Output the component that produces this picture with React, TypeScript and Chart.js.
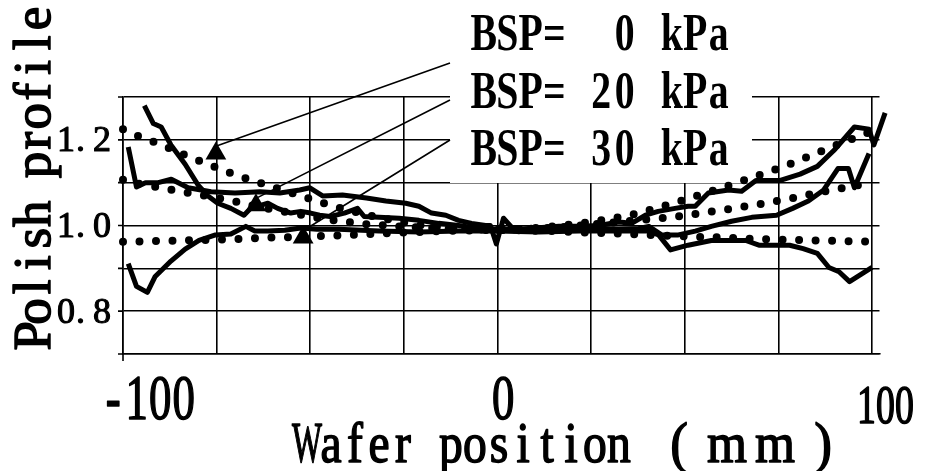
import { useEffect, useRef } from "react";
import { Chart, registerables } from "chart.js";

Chart.register(...registerables);

// Back-side pressure of each condition, kPa
const pressures = [0, 20, 30];

// Model curves (dotted), sampled along the wafer diameter, mm
const modelX = [
  -100, -95, -90, -85, -80, -75, -70, -65, -60, -55, -50, -45, -40, -35, -30, -25, -20, -15, -10, -5, 0,
  5, 10, 15, 20, 25, 30, 35, 40, 45, 50, 55, 60, 65, 70, 75, 80, 85, 90, 95, 100,
];
const model0 = [
  1.225, 1.205, 1.19, 1.17, 1.152, 1.135, 1.118, 1.104, 1.09, 1.076, 1.062, 1.048, 1.036, 1.025, 1.016, 1.007,
  1.0, 0.996, 0.993, 0.991, 0.99, 0.991, 0.994, 0.998, 1.003, 1.008, 1.016, 1.023, 1.035, 1.047, 1.06, 1.074,
  1.088, 1.103, 1.118, 1.133, 1.15, 1.168, 1.186, 1.203, 1.22,
];
const model20 = [
  1.107, 1.096, 1.088, 1.08, 1.072, 1.065, 1.056, 1.046, 1.037, 1.029, 1.021, 1.014, 1.008, 1.003, 1.0, 0.997,
  0.995, 0.993, 0.992, 0.991, 0.99, 0.991, 0.993, 0.995, 0.998, 1.002, 1.006, 1.01, 1.014, 1.018, 1.023, 1.03,
  1.036, 1.043, 1.05, 1.058, 1.066, 1.076, 1.084, 1.092, 1.1,
];
const model30 = [
  0.962, 0.963, 0.964, 0.965, 0.966, 0.967, 0.968, 0.97, 0.972, 0.973, 0.975, 0.976, 0.978, 0.98, 0.982, 0.984,
  0.985, 0.987, 0.988, 0.989, 0.99, 0.989, 0.988, 0.987, 0.985, 0.983, 0.982, 0.98, 0.978, 0.976, 0.975, 0.973,
  0.972, 0.97, 0.968, 0.967, 0.966, 0.965, 0.964, 0.963, 0.962,
];

// Measured profiles (solid): [position mm, normalised removal]
const measured0: [number, number][] = [
  [-94.3, 1.28], [-91.9, 1.238], [-89.8, 1.23], [-87.2, 1.188], [-83.4, 1.143], [-80.0, 1.095], [-77.3, 1.069],
  [-74.7, 1.052], [-71.2, 1.04], [-67.7, 1.024], [-65.9, 1.04], [-61.3, 1.052], [-58.7, 1.04], [-55.2, 1.029],
  [-52.5, 1.033], [-49.9, 1.029], [-47.5, 1.024], [-44.7, 1.021], [-40.9, 1.029], [-37.4, 1.04], [-35.6, 1.021],
  [-31.6, 1.019], [-26.3, 1.017], [-21, 1.012], [-15.7, 1.005], [-10.4, 1.0], [-5, 0.993], [0, 0.991],
  [5.6, 0.991], [11, 0.995], [16.4, 0.998], [21.8, 0.998], [27.1, 1.0], [32.4, 1.008], [35.8, 1.005],
  [39.5, 1.024], [42.9, 1.033], [47.4, 1.04], [50.9, 1.045], [52.8, 1.045], [56.3, 1.076], [61.7, 1.083],
  [65.2, 1.08], [69, 1.105], [75.3, 1.105], [80.8, 1.12], [85.4, 1.138], [89.8, 1.175], [95.3, 1.23],
  [99.2, 1.225], [100.5, 1.188], [103.5, 1.263],
];
const measured20: [number, number][] = [
  [-98.6, 1.183], [-96.4, 1.09], [-94.0, 1.1], [-90.6, 1.1], [-87.1, 1.108], [-82.6, 1.088], [-76.5, 1.079],
  [-70.1, 1.076], [-63.4, 1.079], [-58.1, 1.076], [-52.8, 1.083], [-50.1, 1.088], [-46.7, 1.069], [-41.4, 1.071],
  [-35, 1.064], [-29.8, 1.057], [-24.5, 1.052], [-21, 1.045], [-17.6, 1.029], [-13.8, 1.024], [-10.4, 1.012],
  [-6.9, 1.005], [-3.2, 1.0], [-1.9, 1.0], [-0.3, 0.957], [1.6, 1.017], [4.3, 0.991], [5.6, 0.987], [11, 0.991],
  [16.4, 0.989], [21.8, 0.991], [27.1, 0.993], [32.4, 0.991], [37.7, 0.993], [40.4, 0.998], [43.8, 0.978],
  [48.3, 0.978], [52.8, 0.987], [57.1, 0.998], [62.5, 1.01], [67.9, 1.019], [74.5, 1.024], [78.8, 1.04],
  [83, 1.057], [87.1, 1.083], [90.9, 1.133], [93.7, 1.133], [95.3, 1.088], [99.2, 1.168],
];
const measured30: [number, number][] = [
  [-98.6, 0.911], [-96.4, 0.858], [-93.5, 0.844], [-91.4, 0.881], [-87.2, 0.917], [-83.4, 0.945], [-79.7, 0.965],
  [-75.3, 0.978], [-71.2, 0.98], [-67.2, 0.998], [-64.8, 0.987], [-61.3, 0.987], [-56.8, 0.989], [-52.5, 0.994],
  [-48.2, 0.991], [-42.4, 0.991], [-31.6, 0.987], [-21, 0.985], [-10.4, 0.987], [0, 0.987], [11, 0.985],
  [21.8, 0.987], [32.4, 0.987], [40.4, 0.987], [43, 0.978], [46.2, 0.943], [50.9, 0.954], [57.1, 0.965],
  [66.3, 0.965], [69.8, 0.954], [78, 0.954], [81.6, 0.946], [85.4, 0.935], [88.5, 0.902], [91.2, 0.892],
  [94, 0.869], [100, 0.902],
];

// Triangle markers tying each legend row to its curve
const markerX = [-75.2, -64.5, -51.9];
const markerY = [1.168, 1.047, 0.972];

// Axis labelling and grid positions
const xGridValues = [-100, -75, -50, -25, 0, 25, 50, 75, 100];
const yLabelValues = [0.8, 1.0, 1.2];
const xLabelValues = [-100, 0, 100];
const xTitle = "Wafer position （ｍｍ）";
const yTitle = "Polish profile";

const FONT = '"Liberation Serif"';

type CellOpts = {
  size: number;
  cell: number;
  sx: number;
  maxW: number;
  bold?: boolean;
  weight?: number;
  wideSx?: number;
  wideMaxW?: number;
  periodLeft?: boolean;
};

// Draws text on a fixed character grid (half-width cells, full-width forms take two cells).
function drawCells(ctx: CanvasRenderingContext2D, text: string, x0: number, base: number, o: CellOpts) {
  ctx.font = `${o.bold ? "bold " : ""}${o.size}px ${FONT}`;
  ctx.textBaseline = "alphabetic";
  ctx.fillStyle = "#000";
  ctx.strokeStyle = "#000";
  ctx.lineJoin = "round";
  let x = x0;
  for (const ch of Array.from(text)) {
    const code = ch.codePointAt(0) as number;
    const wide = code >= 0xff01 && code <= 0xff5e;
    const glyph = wide ? String.fromCharCode(code - 0xfee0) : ch;
    const w = wide ? o.cell * 2 : o.cell;
    if (glyph.trim()) {
      const nat = ctx.measureText(glyph).width;
      const k = Math.min(wide ? o.wideSx ?? o.sx : o.sx, (wide ? o.wideMaxW ?? o.maxW : o.maxW) / nat);
      const leftAligned = o.periodLeft && glyph === ".";
      ctx.save();
      ctx.textAlign = leftAligned ? "left" : "center";
      ctx.translate(leftAligned ? x + 1 : x + w / 2, base);
      ctx.scale(k, 1);
      ctx.fillText(glyph, 0, 0);
      if (o.weight) {
        ctx.lineWidth = o.weight;
        ctx.strokeText(glyph, 0, 0);
      }
      ctx.restore();
    }
    x += w;
  }
}

const legendPanel = { left: 450, top: 0, width: 302, height: 183 };
const legendText = { x: 472, baselines: [50, 108, 165] };
const leaderStartY = [63, 100, 140];
const xLabelStyle = [
  { dx: -21.5, base: 419, size: 64, cell: 23.5 },
  { dx: -6, base: 419, size: 64, cell: 23.5 },
  { dx: -15, base: 423, size: 54, cell: 19 },
];

const decorations = {
  id: "decorations",
  beforeDatasetsDraw(chart: Chart) {
    const { ctx } = chart;
    const xs = chart.scales.x;
    const ys = chart.scales.y;
    ctx.save();
    ctx.strokeStyle = "#000";
    ctx.lineWidth = 1.6;
    ctx.beginPath();
    for (const t of ys.ticks) {
      const py = ys.getPixelForValue(t.value);
      ctx.moveTo(xs.left - 5, py);
      ctx.lineTo(xs.left, py);
    }
    ctx.moveTo(xs.left, ys.bottom);
    ctx.lineTo(xs.left, ys.bottom + 7);
    ctx.stroke();
    ctx.fillStyle = "#fff";
    ctx.fillRect(legendPanel.left, legendPanel.top, legendPanel.width, legendPanel.height);
    ctx.restore();
  },
  afterDatasetsDraw(chart: Chart) {
    const { ctx } = chart;
    const xs = chart.scales.x;
    const ys = chart.scales.y;
    ctx.save();

    // leader lines from legend rows to their markers
    ctx.strokeStyle = "#000";
    ctx.lineWidth = 1.6;
    ctx.beginPath();
    markerX.forEach((mx, i) => {
      const px = xs.getPixelForValue(mx);
      const py = ys.getPixelForValue(markerY[i]);
      ctx.moveTo(legendPanel.left, leaderStartY[i]);
      ctx.lineTo(px + 2, py - 8);
    });
    ctx.stroke();

    // legend rows
    pressures.forEach((p, i) => {
      const label = `BSP=${String(p).padStart(3, " ")} kPa`;
      drawCells(ctx, label, legendText.x, legendText.baselines[i], {
        size: 53,
        cell: 23.5,
        sx: 0.75,
        maxW: 27,
        bold: true,
      });
    });

    // y tick labels
    yLabelValues.forEach((v) => {
      const py = ys.getPixelForValue(v);
      drawCells(ctx, v.toFixed(1), 57, py + 11.5, {
        size: 36,
        cell: 18,
        sx: 1,
        maxW: 20,
        weight: 1.1,
        periodLeft: true,
      });
    });

    // x tick labels
    xLabelValues.forEach((v, i) => {
      const s = xLabelStyle[i];
      const px = xs.getPixelForValue(v);
      drawCells(ctx, String(v), px + s.dx, s.base, {
        size: s.size,
        cell: s.cell,
        sx: 0.7,
        maxW: 24,
        weight: 1.6,
      });
    });

    // axis titles
    drawCells(ctx, xTitle, 295, 462, {
      size: 56,
      cell: 24,
      sx: 0.85,
      maxW: 30,
      wideSx: 0.95,
      wideMaxW: 40,
      weight: 1.5,
    });
    ctx.save();
    ctx.translate(50, 348);
    ctx.rotate(-Math.PI / 2);
    drawCells(ctx, yTitle, 0, 0, { size: 53, cell: 24.4, sx: 1, maxW: 31, weight: 1.5 });
    ctx.restore();

    ctx.restore();
  },
};

const toPoints = (xs: number[], ys: number[]) => xs.map((x, i) => ({ x, y: ys[i] }));
const pairPoints = (pts: [number, number][]) => pts.map(([x, y]) => ({ x, y }));

const dotted = {
  borderColor: "#000",
  borderWidth: 8,
  borderDash: [0, 16.5],
  borderCapStyle: "round" as const,
  pointRadius: 0,
  fill: false,
  tension: 0,
  clip: false as const,
};
const solid = {
  borderColor: "#000",
  borderWidth: 5,
  borderJoinStyle: "round" as const,
  pointRadius: 0,
  fill: false,
  tension: 0,
  clip: false as const,
};

export default function App() {
  const ref = useRef<HTMLCanvasElement>(null);
  useEffect(() => {
    if (!ref.current) return;
    const chart = new Chart(ref.current, {
      type: "line",
      data: {
        datasets: [
          {
            label: "markers",
            data: toPoints(markerX, markerY),
            showLine: false,
            pointStyle: "triangle",
            pointRadius: 12,
            pointBackgroundColor: "#000",
            pointBorderColor: "#000",
            pointBorderWidth: 0,
            clip: false,
          },
          { label: `${pressures[0]} kPa measured`, data: pairPoints(measured0), ...solid },
          { label: `${pressures[1]} kPa measured`, data: pairPoints(measured20), ...solid },
          { label: `${pressures[2]} kPa measured`, data: pairPoints(measured30), ...solid },
          { label: `${pressures[0]} kPa model`, data: toPoints(modelX, model0), ...dotted },
          { label: `${pressures[1]} kPa model`, data: toPoints(modelX, model20), ...dotted },
          { label: `${pressures[2]} kPa model`, data: toPoints(modelX, model30), ...dotted },
        ],
      },
      options: {
        animation: false,
        responsive: false,
        devicePixelRatio: 1,
        layout: { padding: { left: 123, right: 49.5, top: 97, bottom: 117 } },
        plugins: { legend: { display: false }, tooltip: { enabled: false } },
        events: [],
        scales: {
          x: {
            type: "linear",
            min: -100,
            max: 102,
            afterBuildTicks: (scale) => {
              scale.ticks = xGridValues.map((value) => ({ value }));
            },
            ticks: { display: false },
            grid: { color: "#000", lineWidth: 1.6, drawTicks: false },
            border: { color: "#000", width: 1.6 },
          },
          y: {
            type: "linear",
            min: 0.7,
            max: 1.3,
            ticks: { display: false, stepSize: 0.1 },
            grid: { color: "#000", lineWidth: 1.6, drawTicks: false },
            border: { color: "#000", width: 1.6 },
          },
        },
      },
      plugins: [decorations],
    });
    return () => chart.destroy();
  }, []);
  return (
    <div style={{ position: "absolute", left: 0, top: 0, width: 929, height: 471, background: "#fff" }}>
      <canvas ref={ref} width={929} height={471} style={{ display: "block" }} />
    </div>
  );
}
